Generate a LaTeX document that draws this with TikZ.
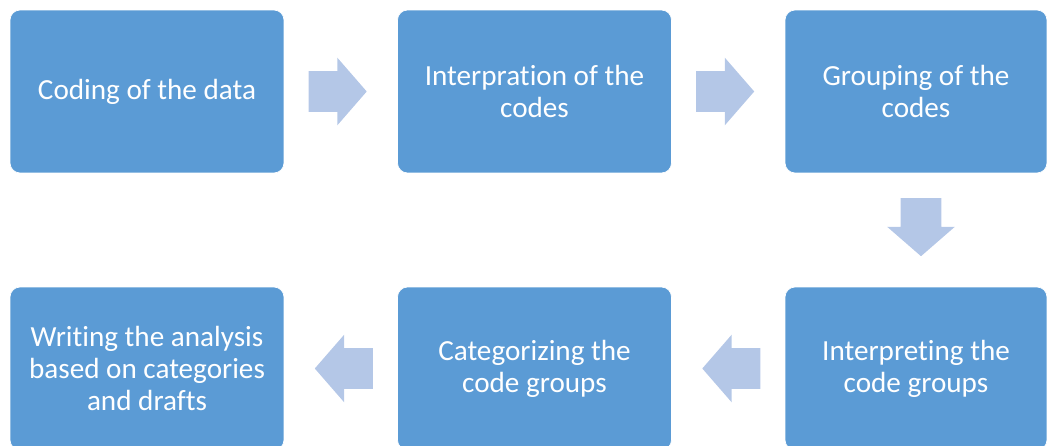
\documentclass[tikz,border=0pt]{standalone}
\usepackage{fontspec}
\setmainfont{Carlito}[Ligatures=NoCommon]
\usetikzlibrary{shapes.arrows,calc}
\definecolor{boxblue}{HTML}{5B9BD5}
\definecolor{arrowblue}{HTML}{B4C7E7}
\begin{document}
\begin{tikzpicture}[x=0.02cm,y=-0.02cm,
    stepbox/.style={rectangle,rounded corners=0.2cm,fill=boxblue,draw=white,
      line width=0.4pt,text=white,align=center,inner sep=0pt,
      minimum width=5.48cm,minimum height=3.26cm,
      font=\fontsize{16.6}{18.2}\selectfont},
    flow/.style={single arrow,fill=arrowblue,draw=none,anchor=tip,
      inner xsep=0pt,inner ysep=0.4cm,minimum height=1.16cm,
      single arrow head extend=0.27cm,single arrow tip angle=98}]
\useasboundingbox (0,0) rectangle (1048,446);
\clip (0,0) rectangle (1048,446);
\node [stepbox]                         (coding) at (147  , 91.5) {Coding of the data};
\node [stepbox]                         (interp) at (534.5, 91.5) {Interpration of the\\codes};
\node [stepbox,minimum width=5.24cm]    (group)  at (916  , 91.5) {Grouping of the\\codes};
\node [stepbox,minimum width=5.24cm]    (intgrp) at (916  ,368.5) {Interpreting the\\code groups};
\node [stepbox]                         (categ)  at (534.5,368.5) {Categorizing the\\code groups};
\node [stepbox]                         (write)  at (147  ,368.5) {Writing the analysis\\based on categories\\and drafts};
\node [flow]            (a1) at ($(interp.west)+(-30,0)$)  {};
\node [flow]            (a2) at ($(group.west)+(-30,0)$)   {};
\node [flow,rotate=-90] (a3) at ($(intgrp.north)+(5,-30)$) {};
\node [flow,rotate=180] (a4) at ($(categ.east)+(30,0)$)    {};
\node [flow,rotate=180] (a5) at ($(write.east)+(30,0)$)    {};
\end{tikzpicture}
\end{document}
